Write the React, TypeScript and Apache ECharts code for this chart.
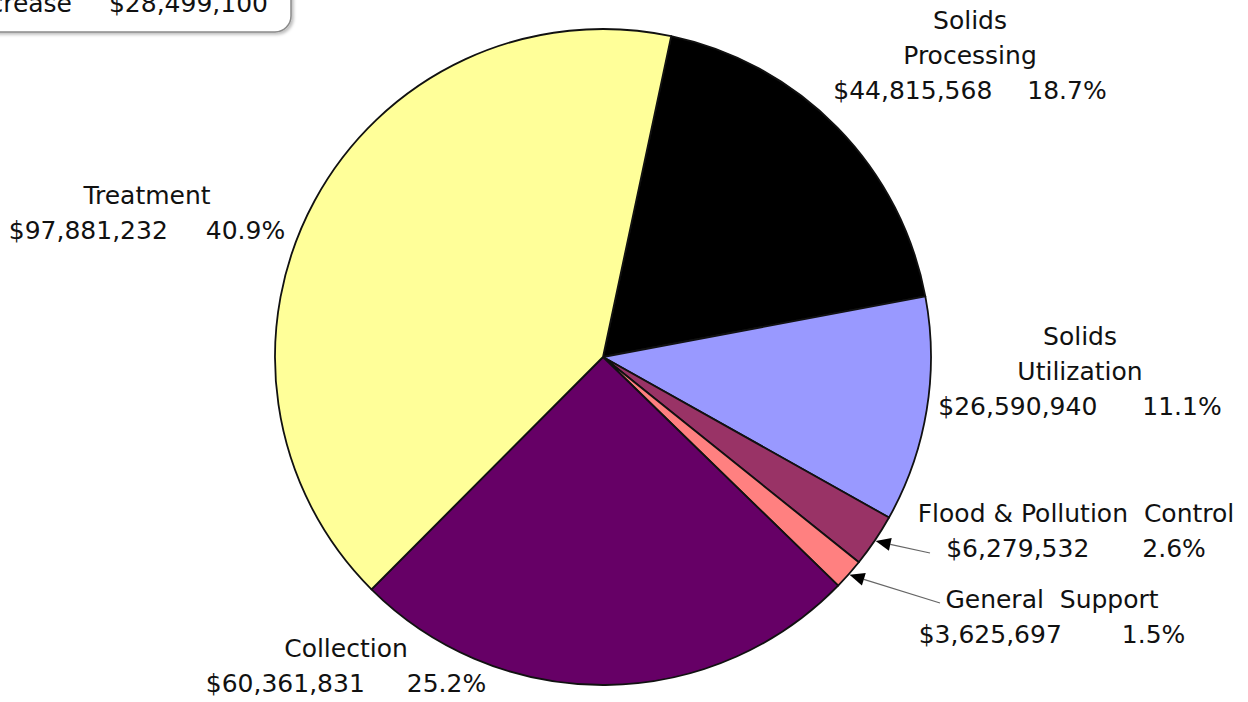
import React, { useEffect, useRef } from "react";
import * as echarts from "echarts";

// ---- data ----
const categories = [
  "Solids Processing",
  "Solids Utilization",
  "Flood & Pollution Control",
  "General Support",
  "Collection",
  "Treatment",
];
const labelNames = [
  "Solids\nProcessing",
  "Solids\nUtilization",
  "Flood & Pollution  Control",
  "General  Support",
  "Collection",
  "Treatment",
];
const amounts = [44815568, 26590940, 6279532, 3625697, 60361831, 97881232];
const legendLabel = "Increase";
const legendAmount = "$28,499,100";

// ---- styles / layout ----
const colors = ["#000000", "#9999FF", "#993366", "#FF8080", "#660066", "#FFFF99"];
const labelPos: [number, number][] = [
  [970, 55],
  [1080, 371],
  [1076, 531],
  [1052, 617],
  [346, 666],
  [147, 213],
];
const pctGaps = [35, 45, 53, 60, 42, 38];
const arrowTails: Record<number, [number, number]> = { 2: [930, 553], 3: [940, 603] };
const CX = 603;
const CY = 357;
const R = 328;
const START_ANGLE = 78; // degrees, ECharts convention
const FONT = "DejaVu Sans, Verdana, sans-serif";

export default function App() {
  const ref = useRef<HTMLDivElement>(null);
  useEffect(() => {
    if (!ref.current) return;
    const chart = echarts.init(ref.current, undefined, { renderer: "svg" });
    const total = amounts.reduce((a, b) => a + b, 0);

    const baseText = { fontSize: 25, lineHeight: 35, color: "#111", fontFamily: FONT };
    const rich: any = { n: { ...baseText }, v: { ...baseText } };
    pctGaps.forEach((g, i) => {
      rich["p" + i] = { ...baseText, padding: [0, 0, 0, g] };
    });

    // arrows computed from the pie geometry
    const graphics: any[] = [];
    let cum = 0;
    amounts.forEach((v, i) => {
      const frac = v / total;
      const midFrac = cum + frac / 2;
      cum += frac;
      const tail = arrowTails[i];
      if (!tail) return;
      const angDeg = START_ANGLE - midFrac * 360;
      const a = (angDeg * Math.PI) / 180;
      const tip = [CX + (R + 1) * Math.cos(a), CY - (R + 1) * Math.sin(a)];
      const dx = tail[0] - tip[0];
      const dy = tail[1] - tip[1];
      const len = Math.hypot(dx, dy);
      const ux = dx / len;
      const uy = dy / len;
      const hl = 15;
      const hw = 6.5;
      const bx = tip[0] + ux * hl;
      const by = tip[1] + uy * hl;
      graphics.push({
        type: "line",
        shape: { x1: tail[0], y1: tail[1], x2: bx, y2: by },
        style: { stroke: "#666", lineWidth: 1.2 },
        z: 10,
      });
      graphics.push({
        type: "polygon",
        shape: {
          points: [
            [tip[0], tip[1]],
            [bx - uy * hw, by + ux * hw],
            [bx + uy * hw, by - ux * hw],
          ],
        },
        style: { fill: "#000" },
        z: 10,
      });
    });

    // partially visible legend box in the top-left corner
    graphics.push({
      type: "rect",
      shape: { x: -20, y: -40, width: 311, height: 72, r: 16 },
      style: {
        fill: "#fff",
        stroke: "#8a8a8a",
        lineWidth: 1.5,
        shadowColor: "rgba(0,0,0,0.25)",
        shadowBlur: 3,
        shadowOffsetX: 2,
        shadowOffsetY: 2,
      },
      z: 5,
    });
    graphics.push({
      type: "text",
      x: 72,
      y: 3,
      style: {
        text: legendLabel,
        font: `25px ${FONT}`,
        fill: "#111",
        align: "right",
        verticalAlign: "middle",
      },
      z: 6,
    });
    graphics.push({
      type: "text",
      x: 268,
      y: 3,
      style: {
        text: legendAmount,
        font: `25px ${FONT}`,
        fill: "#111",
        align: "right",
        verticalAlign: "middle",
      },
      z: 6,
    });

    chart.setOption({
      animation: false,
      backgroundColor: "#ffffff",
      graphic: graphics,
      series: [
        {
          type: "pie",
          center: [CX, CY],
          radius: [0, R],
          startAngle: START_ANGLE,
          clockwise: true,
          avoidLabelOverlap: false,
          silent: true,
          itemStyle: { borderColor: "#111", borderWidth: 1.8 },
          labelLine: { show: false },
          label: {
            show: true,
            position: "outside",
            formatter: (p: any) => {
              const i = p.dataIndex;
              const names = labelNames[i]
                .split("\n")
                .map((s) => `{n|${s}}`)
                .join("\n");
              const pct = ((amounts[i] / total) * 100).toFixed(1);
              return `${names}\n{v|$${amounts[i].toLocaleString("en-US")}}{p${i}|${pct}%}`;
            },
            rich,
          },
          labelLayout: (p: any) => ({
            x: labelPos[p.dataIndex][0],
            y: labelPos[p.dataIndex][1],
            align: "center",
            verticalAlign: "middle",
          }),
          data: categories.map((c, i) => ({
            name: c,
            value: amounts[i],
            itemStyle: { color: colors[i] },
          })),
        },
      ],
    });
    return () => chart.dispose();
  }, []);

  return (
    <div
      ref={ref}
      style={{ position: "fixed", left: 0, top: 0, width: 1248, height: 702, background: "#fff" }}
    />
  );
}
